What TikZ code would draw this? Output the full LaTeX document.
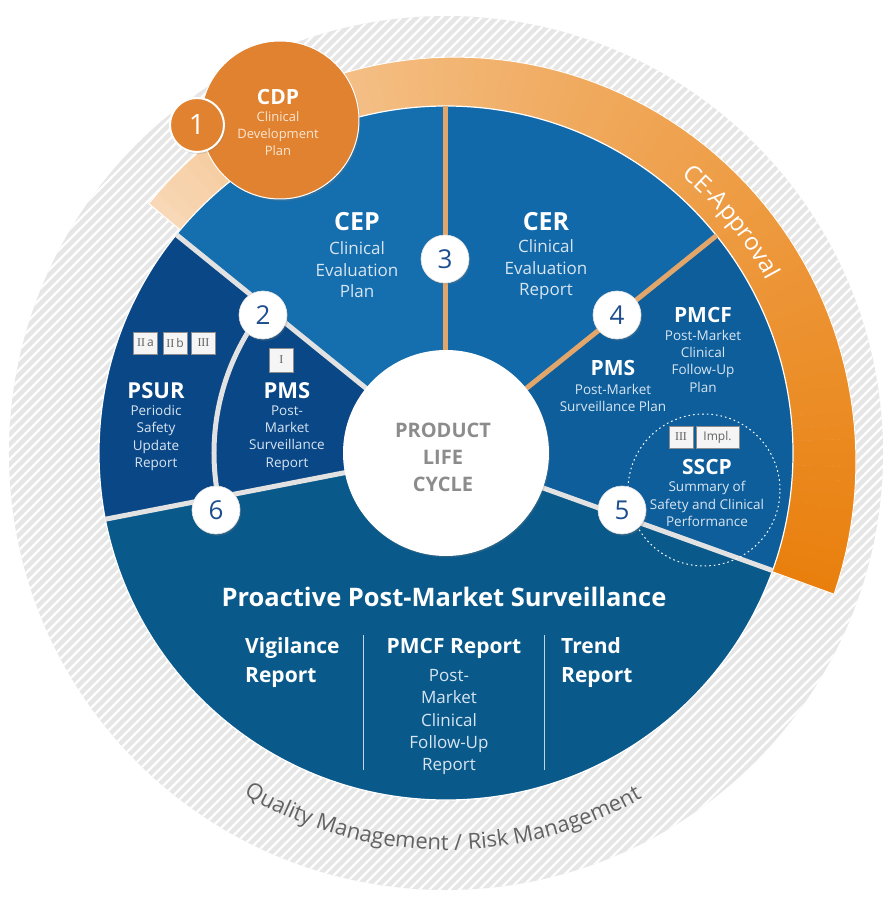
\documentclass[tikz,border=0pt]{standalone}
\usepackage{fontspec}
\setmainfont{Open Sans}
\newfontfamily\serifnum{Liberation Serif}
\usetikzlibrary{decorations.text,shadows}
\definecolor{ringgray}{HTML}{E6E6E6}
\definecolor{cepblue}{HTML}{156EAD}
\definecolor{cerblue}{HTML}{1269A9}
\definecolor{pmcfblue}{HTML}{0D5E9B}
\definecolor{bottomblue}{HTML}{09598B}
\definecolor{navy}{HTML}{0A4786}
\definecolor{cdporange}{HTML}{E0822F}
\definecolor{peach}{HTML}{F8D8B6}
\definecolor{deeporange}{HTML}{E9800E}
\definecolor{tanc}{HTML}{E2A56A}
\definecolor{divgray}{HTML}{E2E2E2}
\definecolor{numblue}{HTML}{1D4E8E}
\definecolor{subwhite}{HTML}{D8E5F2}
\definecolor{cdpsub}{HTML}{FCE6D2}
\definecolor{centergray}{HTML}{8C8C8C}
\definecolor{qmgray}{HTML}{636363}
\tikzset{
  numc/.style={circle, fill=white, draw=black!12, line width=0.6pt, minimum size=48pt, inner sep=0pt,
    font=\fontsize{26}{26}\selectfont, text=numblue, drop shadow={opacity=0.25, shadow xshift=1.2pt, shadow yshift=-1.8pt}},
  ttl/.style={text=white, font=\bfseries\fontsize{20}{20}\selectfont, inner sep=0pt},
  sub/.style={text=subwhite, font=\fontsize{13.5}{17.3}\selectfont, align=center, inner sep=0pt},
  badge/.style={draw=black!45, fill=white!96!black, line width=0.7pt, minimum height=22pt, minimum width=24pt,
    inner sep=0pt, text=black!62, font=\fontsize{12}{12}\selectfont},
  divl/.style={divgray, line width=5pt},
  tanl/.style={tanc, line width=5pt},
  sepl/.style={white!75!bottomblue, line width=1pt},
}
\begin{document}
\begin{tikzpicture}[x=1pt,y=1pt]
\useasboundingbox (-446,-444) rectangle (443,453);
\fill[white] (-446,-444) rectangle (443,453);
% hatched outer ring
\begin{scope}
\clip (0,0) circle[radius=437];
\fill[ringgray] (-446,-444) rectangle (443,453);
\foreach \c in {-900,-890,...,900} \draw[white, line width=2.4pt] (\c-460,-460) -- (\c+460,460);
\end{scope}
% orange CE band with gradient
\foreach \i in {0,...,79}{
  \pgfmathsetmacro\aa{140-2*\i}
  \pgfmathsetmacro\ab{138-2*\i}
  \pgfmathsetmacro\ra{388+(140-\aa)*0.15625}
  \pgfmathsetmacro\rb{388+(140-\ab)*0.15625}
  \pgfmathsetmacro\pct{100*(\i/79)^0.8}
  \colorlet{segc}{deeporange!\pct!peach}
  \fill[segc, draw=segc, line width=0.4pt] (\aa:346) arc[start angle=\aa, end angle=\ab, radius=346] -- (\ab:\rb) -- (\aa:\ra) -- cycle;
}
\draw[white, line width=1pt] (140:347) -- (140:388) -- plot[domain=140:-20, samples=81] ({\x}:{388+(140-\x)*0.15625}) -- (-20:347);
% blue sectors
\fill[cerblue] (0,0) -- (38.8:347) arc[start angle=38.8, end angle=90, radius=347] -- cycle;
\fill[cepblue] (0,0) -- (90:347) arc[start angle=90, end angle=141, radius=347] -- cycle;
\fill[navy] (0,0) -- (141:347) arc[start angle=141, end angle=191, radius=347] -- cycle;
\fill[bottomblue] (0,0) -- (191:347) arc[start angle=191, end angle=340.2, radius=347] -- cycle;
\fill[pmcfblue] (0,0) -- (-19.8:347) arc[start angle=-19.8, end angle=38.8, radius=347] -- cycle;
\draw[white, line width=1.2pt] (0,0) circle[radius=347];
% dividers
\draw[divl] (0,0) -- (141:347);
\draw[divl] (0,0) -- (191:347);
\draw[divl] (0,0) -- (-19.8:347);
\draw[divl] (141:232) arc[start angle=141, end angle=192, radius=232];
\draw[tanl] (0,0) -- (90:347);
\draw[tanl] (0,0) -- (38.8:347);
% SSCP dotted circle
\draw[white, line width=1pt, dash pattern=on 1.6pt off 3pt] (258,-37) circle[radius=76];
% centre
\node[circle, fill=white, minimum size=206pt, inner sep=0pt, drop shadow={opacity=0.25, shadow xshift=1pt, shadow yshift=-1.5pt}] (centre) at (0,0) {};
\node[text=centergray, font=\bfseries\fontsize{20}{27}\selectfont, align=center] (plc) at (-3,-4) {PRODUCT\\LIFE\\CYCLE};
% CDP
\node[circle, fill=cdporange, draw=white, line width=1pt, minimum size=158pt, inner sep=0pt, drop shadow={opacity=0.25, shadow xshift=1.5pt, shadow yshift=-2pt}] (cdp) at (-166,333) {};
\node[circle, fill=cdporange, draw=white, line width=2pt, minimum size=54pt, inner sep=0pt, text=white, font=\fontsize{28}{28}\selectfont, drop shadow={opacity=0.25, shadow xshift=1.5pt, shadow yshift=-2pt}] (n1) at (-249,328) {1};
\node[ttl, font=\bfseries\fontsize{21}{21}\selectfont] (cdpt) at (-168,356) {CDP};
\node[sub, text=cdpsub, font=\fontsize{13}{17}\selectfont] (cdps) at (-168,319) {Clinical\\Development\\Plan};
% number circles
\node[numc] (n2) at (-183,138) {2};
\node[numc] (n3) at (-1,194) {3};
\node[numc] (n4) at (171,138) {4};
\node[numc] (n5) at (176,-57) {5};
\node[numc] (n6) at (-230,-57) {6};
% CEP / CER
\node[ttl, font=\bfseries\fontsize{25}{25}\selectfont] (cept) at (-89,231) {CEP};
\node[sub, font=\fontsize{17}{21.5}\selectfont] (ceps) at (-89,183) {Clinical\\Evaluation\\Plan};
\node[ttl, font=\bfseries\fontsize{25}{25}\selectfont] (cert) at (100,231) {CER};
\node[sub, font=\fontsize{17}{21.5}\selectfont] (cers) at (100,183) {Clinical\\Evaluation\\Report};
% PMCF / PMS plan
\node[ttl, font=\bfseries\fontsize{21}{21}\selectfont] (pmcft) at (257,138) {PMCF};
\node[sub] (pmcfs) at (257,92) {Post-Market\\Clinical\\Follow-Up\\Plan};
\node[ttl, font=\bfseries\fontsize{21}{21}\selectfont] (pmspt) at (167,85) {PMS};
\node[sub] (pmsps) at (167,55) {Post-Market\\Surveillance Plan};
% SSCP
\node[badge] (b3) at (235,16) {\serifnum III};
\node[badge, minimum width=43pt] (bimpl) at (271.5,16) {Impl.};
\node[ttl, font=\bfseries\fontsize{21}{21}\selectfont] (sscpt) at (261,-14) {SSCP};
\node[sub] (sscps) at (261,-51) {Summary of\\Safety and Clinical\\Performance};
% PSUR / PMS report
\node[badge] (b2a) at (-300.5,110) {{\serifnum II}\,a};
\node[badge] (b2b) at (-271,110) {{\serifnum II}\,b};
\node[badge] (b3b) at (-242.5,110) {\serifnum III};
\node[ttl, font=\bfseries\fontsize{22}{22}\selectfont] (psurt) at (-290,62) {PSUR};
\node[sub] (psurs) at (-290,15) {Periodic\\Safety\\Update\\Report};
\node[badge, minimum height=24pt] (b1) at (-164.5,93) {\serifnum I};
\node[ttl, font=\bfseries\fontsize{22}{22}\selectfont] (pmsrt) at (-159,62) {PMS};
\node[sub] (pmsrs) at (-159,15) {Post-\\Market\\Surveillance\\Report};
% bottom sector
\node[ttl, font=\bfseries\fontsize{25.5}{25.5}\selectfont] (pro) at (-2,-144) {Proactive Post-Market Surveillance};
\node[ttl, font=\bfseries\fontsize{21}{29}\selectfont, align=left, anchor=west] (vig) at (-201,-209.5) {Vigilance\\Report};
\node[ttl, font=\bfseries\fontsize{21}{21}\selectfont] (pmcfr) at (8,-195) {PMCF Report};
\node[sub, font=\fontsize{17}{22.25}\selectfont] (pmcfrs) at (3,-269) {Post-\\Market\\Clinical\\Follow-Up\\Report};
\node[ttl, font=\bfseries\fontsize{21}{29}\selectfont, align=left, anchor=west] (trend) at (115,-209.5) {Trend\\Report};
\coordinate (s1a) at (-82,-182); \coordinate (s1b) at (-82,-317);
\coordinate (s2a) at (98,-182); \coordinate (s2b) at (98,-317);
\draw[sepl] (s1a) -- (s1b);
\draw[sepl] (s2a) -- (s2b);
% curved texts
\path[decorate, decoration={text along path, text align=center, text color=white,
  text={|\fontsize{24}{24}\selectfont|CE-Approval}}] (79:364) arc[start angle=79, end angle=-1, radius=364];
\path[decorate, decoration={text along path, text align=center, text color=qmgray,
  text={|\fontsize{22}{22}\selectfont|Quality Management / Risk Management}}] (200:397) arc[start angle=200, end angle=339, radius=397];
\end{tikzpicture}
\end{document}
